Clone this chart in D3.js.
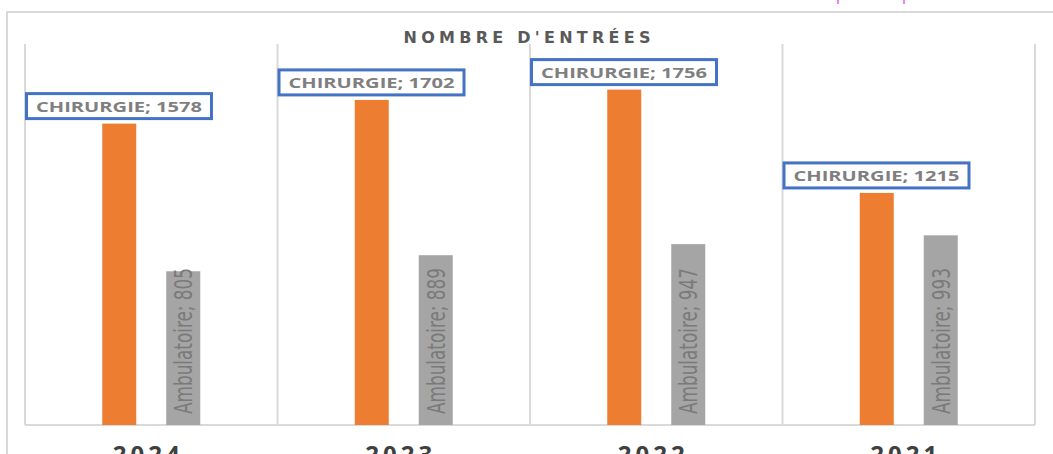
<!DOCTYPE html>
<html>
<head>
<meta charset="utf-8">
<script src="https://cdn.jsdelivr.net/npm/d3@7"></script>
<style>
  html, body { margin: 0; padding: 0; background: #fff; overflow: hidden; }
</style>
</head>
<body>
<svg id="chart"></svg>
<script>
// data
const years = ["2024", "2023", "2022", "2021"]
const chirurgie = [1578, 1702, 1756, 1215]
const ambulatoire = [805, 889, 947, 993]
const seriesNames = ["CHIRURGIE", "Ambulatoire"]
const title = "NOMBRE D'ENTRÉES"

const width = 1053, height = 454
const margin = {top: 43, right: 18, bottom: 29, left: 25}

const svg = d3.select("#chart")
  .attr("width", width)
  .attr("height", height)

// outer frame (only top + left visible)
svg.append("path")
  .attr("d", `M7,${height} L7,12 L${width},12`)
  .attr("fill", "none")
  .attr("stroke", "#d9d9d9")
  .attr("stroke-width", 2)

// small pink marks at top
svg.append("g").selectAll("line")
  .data([838, 904])
  .enter().append("line")
  .attr("x1", d => d).attr("x2", d => d)
  .attr("y1", 0).attr("y2", 4)
  .attr("stroke", "#e25cf0")
  .attr("stroke-width", 1.5)

const x = d3.scaleBand()
  .domain(years)
  .range([margin.left, width - margin.right])
  .padding(0)

const y = d3.scaleLinear()
  .domain([0, 2000])
  .range([height - margin.bottom, margin.top])

const barW = 34
const offset = 32

// vertical grid lines at band edges
const edges = years.map(d => x(d)).concat([x(years[years.length - 1]) + x.bandwidth()])
svg.append("g").selectAll("line")
  .data(edges)
  .enter().append("line")
  .attr("x1", d => d).attr("x2", d => d)
  .attr("y1", y(2000) + 1).attr("y2", y(0))
  .attr("stroke", "#d9d9d9")
  .attr("stroke-width", 2)

// baseline
svg.append("line")
  .attr("x1", x.range()[0]).attr("x2", x.range()[1])
  .attr("y1", y(0)).attr("y2", y(0))
  .attr("stroke", "#d9d9d9")
  .attr("stroke-width", 2)

// title
svg.append("text")
  .attr("x", 527)
  .attr("y", 43)
  .attr("text-anchor", "middle")
  .attr("font-family", "'DejaVu Sans', sans-serif")
  .attr("font-weight", "bold")
  .attr("font-size", 16)
  .attr("fill", "#595959")
  .attr("textLength", 247)
  .attr("lengthAdjust", "spacing")
  .text(title)

// CHIRURGIE bars
svg.append("g").selectAll("rect")
  .data(chirurgie)
  .enter().append("rect")
  .attr("x", (d, i) => x(years[i]) + x.bandwidth() / 2 - offset - barW / 2)
  .attr("y", d => y(d))
  .attr("width", barW)
  .attr("height", d => y(0) - y(d))
  .attr("fill", "#ED7D31")

// Ambulatoire bars
svg.append("g").selectAll("rect")
  .data(ambulatoire)
  .enter().append("rect")
  .attr("x", (d, i) => x(years[i]) + x.bandwidth() / 2 + offset - barW / 2)
  .attr("y", d => y(d))
  .attr("width", barW)
  .attr("height", d => y(0) - y(d))
  .attr("fill", "#A5A5A5")

// CHIRURGIE labels in blue boxes
const lab = svg.append("g").selectAll("g")
  .data(chirurgie)
  .enter().append("g")
  .attr("transform", (d, i) => `translate(${x(years[i]) + 1.5},${y(d) - 30})`)

lab.append("rect")
  .attr("width", 185)
  .attr("height", 25)
  .attr("fill", "#fff")
  .attr("stroke", "#4472C4")
  .attr("stroke-width", 3)

lab.append("text")
  .attr("x", 92.5)
  .attr("y", 18.5)
  .attr("text-anchor", "middle")
  .attr("font-family", "'Open Sans', sans-serif")
  .attr("font-weight", "bold")
  .attr("font-size", 15)
  .attr("fill", "#7f7f7f")
  .attr("textLength", 166)
  .attr("lengthAdjust", "spacingAndGlyphs")
  .text(d => `${seriesNames[0]}; ${d}`)

// Ambulatoire labels, rotated inside bars
svg.append("g").selectAll("text")
  .data(ambulatoire)
  .enter().append("text")
  .attr("transform", (d, i) => {
    const cx = x(years[i]) + x.bandwidth() / 2 + offset
    return `translate(${cx + 9},${y(0) - 11}) rotate(-90)`
  })
  .attr("font-family", "'Liberation Sans Narrow', 'DejaVu Sans Condensed', sans-serif")
  .attr("font-size", 24)
  .attr("fill", "#7a7a7a")
  .attr("textLength", d => String(d).length === 3 ? 146 : 150)
  .attr("lengthAdjust", "spacingAndGlyphs")
  .text(d => `${seriesNames[1]}; ${d}`)

// category labels (cut off at bottom, as in the source)
svg.append("g").selectAll("text")
  .data(years)
  .enter().append("text")
  .attr("x", d => x(d) + x.bandwidth() / 2 - 3)
  .attr("y", 463)
  .attr("text-anchor", "middle")
  .attr("font-family", "'Open Sans', sans-serif")
  .attr("font-weight", "bold")
  .attr("font-size", 24)
  .attr("letter-spacing", 4)
  .attr("fill", "#404040")
  .text(d => d)
</script>
</body>
</html>
